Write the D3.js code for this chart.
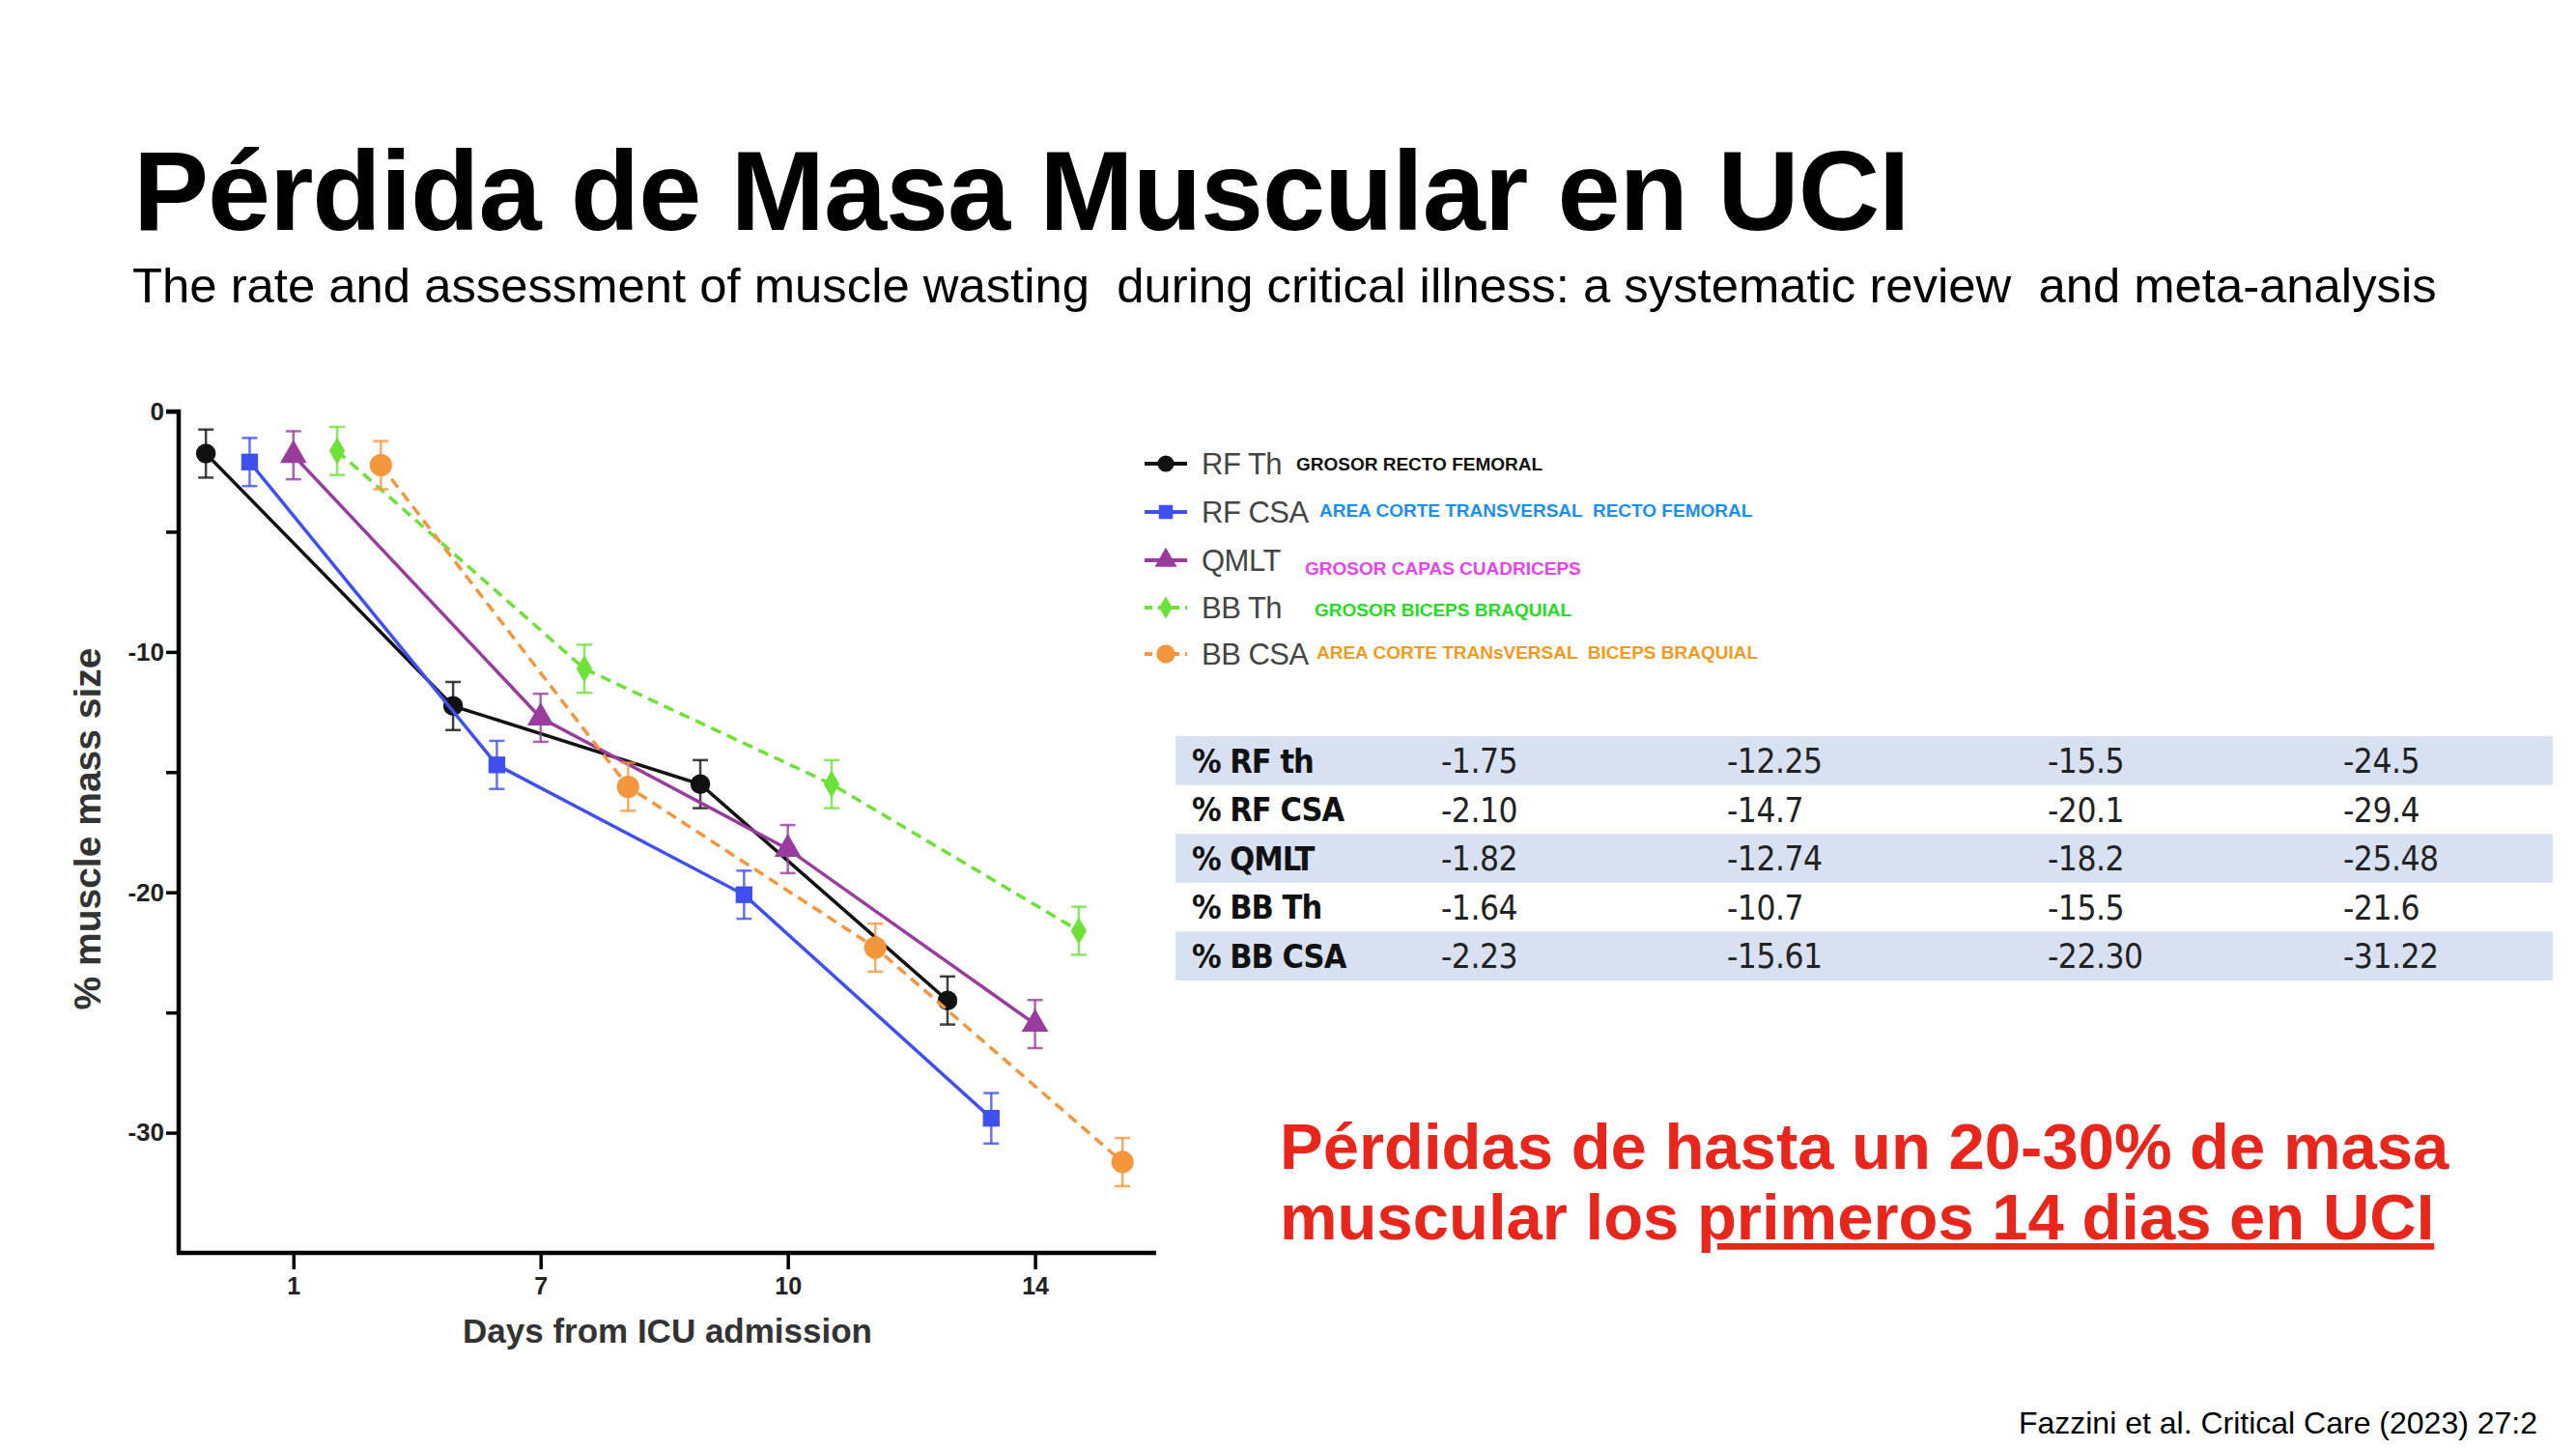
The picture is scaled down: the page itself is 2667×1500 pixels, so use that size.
<!DOCTYPE html>
<html>
<head>
<meta charset="utf-8">
<script src="https://cdn.jsdelivr.net/npm/d3@7"></script>
<style>
  body { margin: 0; background: #fff; }
  svg { display: block; }
  text { white-space: pre; }
</style>
</head>
<body>
<div id="chart"></div>
<script>
// Data
var dayLabels = ["1", "7", "10", "14"];
var seriesNames = ["RF Th", "RF CSA", "QMLT", "BB Th", "BB CSA"];
var seriesNotes = ["GROSOR RECTO FEMORAL", "AREA CORTE TRANSVERSAL  RECTO FEMORAL",
    "GROSOR CAPAS CUADRICEPS", "GROSOR BICEPS BRAQUIAL", "AREA CORTE TRANsVERSAL  BICEPS BRAQUIAL"];
var tableLabels = ["% RF th", "% RF CSA", "% QMLT", "% BB Th", "% BB CSA"];

// values as printed in the table (plotted as numbers)
var rfTh  = ["-1.75", "-12.25", "-15.5", "-24.5"];
var rfCsa = ["-2.10", "-14.7", "-20.1", "-29.4"];
var qmlt  = ["-1.82", "-12.74", "-18.2", "-25.48"];
var bbTh  = ["-1.64", "-10.7", "-15.5", "-21.6"];
var bbCsa = ["-2.23", "-15.61", "-22.30", "-31.22"];

// error bar half-widths (estimated)
var rfThErr  = [1.0, 1.0, 1.0, 1.0];
var rfCsaErr = [1.0, 1.0, 1.0, 1.05];
var qmltErr  = [1.0, 1.0, 1.0, 1.0];
var bbThErr  = [1.0, 1.0, 1.0, 1.0];
var bbCsaErr = [1.0, 1.0, 1.0, 1.0];

var yTicks = [0, -10, -20, -30];

var colors = ["#111111", "#3f4ff0", "#9a3c9e", "#6ce237", "#f5963c"];
var noteColors = ["#111111", "#1b8ff0", "#e444ea", "#22dd22", "#f39a1c"];
var dashed = [false, false, false, true, true];
var shapes = [d3.symbolCircle, d3.symbolSquare, d3.symbolTriangle, d3.symbolDiamond, d3.symbolCircle];
var shapeSizes = [330, 300, 330, 230, 420];
var offsets = [-0.354, -0.177, 0, 0.177, 0.354];

var values = [rfTh, rfCsa, qmlt, bbTh, bbCsa];
var errors = [rfThErr, rfCsaErr, qmltErr, bbThErr, bbCsaErr];

var W = 2667, H = 1500;
var font = "'Liberation Sans', Arial, Helvetica, sans-serif";

var svg = d3.select("#chart").append("svg")
    .attr("width", W)
    .attr("height", H)
    .style("font-family", font);

// Title + subtitle
svg.append("text")
    .attr("x", 138).attr("y", 238)
    .attr("font-size", 117).attr("font-weight", "bold")
    .attr("letter-spacing", -1.1)
    .attr("fill", "#000")
    .text("Pérdida de Masa Muscular en UCI");

svg.append("text")
    .attr("x", 137).attr("y", 313)
    .attr("font-size", 50.8)
    .attr("fill", "#000")
    .text("The rate and assessment of muscle wasting  during critical illness: a systematic review  and meta-analysis");

// Scales
var x = d3.scaleLinear().domain([0.536, 4.49]).range([185, 1197]);
var y = d3.scaleLinear().domain([0, -35]).range([426, 1297]);

var g = svg.append("g");

// Axes
var yAxis = d3.axisLeft(y)
    .tickValues(d3.range(0, -35, -5))
    .tickSize(13)
    .tickFormat(function(d) { return yTicks.indexOf(d) >= 0 ? d : ""; });

var yg = g.append("g").attr("transform", "translate(185,0)").call(yAxis);
yg.select(".domain").attr("stroke", "#000").attr("stroke-width", 4.5)
    .attr("d", "M-13," + y(0) + "H0V" + y(-35));
yg.selectAll(".tick line").attr("stroke", "#000").attr("stroke-width", 3.5);
yg.selectAll(".tick text")
    .attr("font-size", 26).attr("font-weight", "bold").attr("fill", "#222")
    .attr("font-family", font).attr("x", -15);

var xAxis = d3.axisBottom(x)
    .tickValues([1, 2, 3, 4])
    .tickSize(17)
    .tickFormat(function(d) { return dayLabels[d - 1]; });

var xg = g.append("g").attr("transform", "translate(0,1297)").call(xAxis);
xg.select(".domain").attr("stroke", "#000").attr("stroke-width", 4.5)
    .attr("d", "M183,0H1197");
xg.selectAll(".tick line").attr("stroke", "#000").attr("stroke-width", 3.5);
xg.selectAll(".tick text")
    .attr("font-size", 25).attr("font-weight", "bold").attr("fill", "#222")
    .attr("font-family", font).attr("dy", "0.9em");

// Axis titles
g.append("text")
    .attr("x", 691).attr("y", 1390)
    .attr("text-anchor", "middle")
    .attr("font-size", 35).attr("font-weight", "bold").attr("fill", "#333")
    .text("Days from ICU admission");

g.append("text")
    .attr("transform", "translate(104,858) rotate(-90)")
    .attr("text-anchor", "middle")
    .attr("font-size", 39).attr("font-weight", "bold").attr("fill", "#333")
    .text("% muscle mass size");

// Series
var line = d3.line()
    .x(function(d) { return x(d.i + d.off); })
    .y(function(d) { return y(d.v); });

values.forEach(function(vals, s) {
    var pts = vals.map(function(v, i) {
        return { i: i + 1, off: offsets[s], v: +v, e: errors[s][i] };
    });
    var sg = g.append("g");

    sg.append("path")
        .datum(pts)
        .attr("d", line)
        .attr("fill", "none")
        .attr("stroke", colors[s])
        .attr("stroke-width", 3.5)
        .attr("stroke-dasharray", dashed[s] ? "11,7" : null);

    var eb = sg.selectAll(".err")
        .data(pts)
        .enter()
        .append("g")
        .attr("stroke", colors[s])
        .attr("stroke-opacity", 0.8)
        .attr("stroke-width", 2.5);
    eb.append("line")
        .attr("x1", function(d) { return x(d.i + d.off); })
        .attr("x2", function(d) { return x(d.i + d.off); })
        .attr("y1", function(d) { return y(d.v + d.e); })
        .attr("y2", function(d) { return y(d.v - d.e); });
    eb.append("line")
        .attr("x1", function(d) { return x(d.i + d.off) - 8; })
        .attr("x2", function(d) { return x(d.i + d.off) + 8; })
        .attr("y1", function(d) { return y(d.v + d.e); })
        .attr("y2", function(d) { return y(d.v + d.e); });
    eb.append("line")
        .attr("x1", function(d) { return x(d.i + d.off) - 8; })
        .attr("x2", function(d) { return x(d.i + d.off) + 8; })
        .attr("y1", function(d) { return y(d.v - d.e); })
        .attr("y2", function(d) { return y(d.v - d.e); });

    sg.selectAll(".pt")
        .data(pts)
        .enter()
        .append("path")
        .attr("d", d3.symbol().type(shapes[s]).size(shapeSizes[s]))
        .attr("transform", function(d) {
            return "translate(" + x(d.i + d.off) + "," + y(d.v) + ")";
        })
        .attr("fill", colors[s]);
});

// Legend
var legendY = [480, 530, 580, 629, 677];
var noteX = [1342, 1366, 1351, 1361, 1363];
var noteY = [480, 528, 588, 631, 675];

var lg = svg.append("g");
seriesNames.forEach(function(name, s) {
    lg.append("line")
        .attr("x1", 1185).attr("x2", 1229)
        .attr("y1", legendY[s]).attr("y2", legendY[s])
        .attr("stroke", colors[s]).attr("stroke-width", 4)
        .attr("stroke-dasharray", dashed[s] ? "8,6" : null);
    lg.append("path")
        .attr("d", d3.symbol().type(shapes[s]).size(shapeSizes[s] * 0.7))
        .attr("transform", "translate(1207," + legendY[s] + ")")
        .attr("fill", colors[s]);
    lg.append("text")
        .attr("x", 1244).attr("y", legendY[s])
        .attr("dy", "0.36em")
        .attr("font-size", 31).attr("fill", "#444")
        .attr("letter-spacing", -0.5)
        .text(name);
    lg.append("text")
        .attr("x", noteX[s]).attr("y", noteY[s])
        .attr("dy", "0.36em")
        .attr("font-size", 19).attr("font-weight", "bold")
        .attr("fill", noteColors[s])
        .text(seriesNotes[s]);
});

// Table
var rowTop = 762, rowH = 50.6;
var colX = [1492, 1788, 2120, 2426];
var tableFont = "'Liberation Sans Narrow', 'DejaVu Sans Condensed', 'Liberation Sans', sans-serif";
var tg = svg.append("g").style("font-family", tableFont);

tableLabels.forEach(function(lab, r) {
    if (r % 2 === 0) {
        tg.append("rect")
            .attr("x", 1217).attr("y", rowTop + r * rowH)
            .attr("width", 1426).attr("height", rowH)
            .attr("fill", "#d8e1f2");
    }
    var cy = rowTop + r * rowH + rowH / 2;
    tg.append("text")
        .attr("x", 1234).attr("y", cy).attr("dy", "0.36em")
        .attr("font-size", 34).attr("font-weight", "bold").attr("fill", "#111")
        .attr("letter-spacing", -1)
        .text(lab);
    values[r].forEach(function(v, c) {
        tg.append("text")
            .attr("x", colX[c]).attr("y", cy).attr("dy", "0.36em")
            .attr("font-size", 35).attr("fill", "#222")
            .attr("letter-spacing", -0.5)
            .text(v);
    });
});

// Red highlight text
var red = "#e8261b";
var hl = svg.append("g").attr("font-size", 67).attr("font-weight", "bold").attr("fill", red);
hl.append("text")
    .attr("x", 1325).attr("y", 1210)
    .text("Pérdidas de hasta un 20-30% de masa");
var t2 = hl.append("text").attr("x", 1325).attr("y", 1283);
t2.append("tspan").text("muscular los ");
t2.append("tspan").attr("text-decoration", "underline").text("primeros 14 dias en UCI");

// Footer
svg.append("text")
    .attr("x", 2627).attr("y", 1484)
    .attr("text-anchor", "end")
    .attr("font-size", 32).attr("fill", "#000")
    .text("Fazzini et al. Critical Care (2023) 27:2");
</script>
</body>
</html>
